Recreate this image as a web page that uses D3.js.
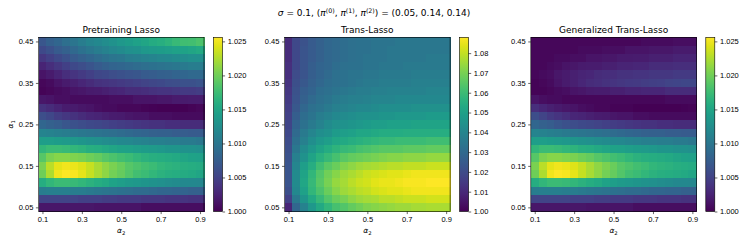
<!DOCTYPE html>
<html>
<head>
<meta charset="utf-8">
<script src="https://d3js.org/d3.v7.min.js"></script>
<style>
  body { margin: 0; background: white; }
  svg { font-family: "DejaVu Sans", sans-serif; }
  .tick text { font-size: 7.5px; fill: #000; }
  .tick line { stroke: #000; stroke-width: 0.6; }
  .cell { shape-rendering: crispEdges; }
</style>
</head>
<body>
<script>
// grid of the heat maps (rows top -> bottom)
var alpha1 = [0.45, 0.43, 0.41, 0.39, 0.37, 0.35, 0.33, 0.31, 0.29, 0.27, 0.25,
              0.23, 0.21, 0.19, 0.17, 0.15, 0.13, 0.11, 0.09, 0.07, 0.05];
var alpha2 = [0.10, 0.14, 0.18, 0.22, 0.26, 0.30, 0.34, 0.38, 0.42, 0.46, 0.50,
              0.54, 0.58, 0.62, 0.66, 0.70, 0.74, 0.78, 0.82, 0.86, 0.90];
var xTicks = [0.1, 0.3, 0.5, 0.7, 0.9];
var yTicks = [0.05, 0.15, 0.25, 0.35, 0.45];

var titles = ["Pretraining Lasso", "Trans-Lasso", "Generalized Trans-Lasso"];

// relative error, Pretraining Lasso
var ptLasso = [
  [1.0069,1.0077,1.0084,1.0092,1.0100,1.0108,1.0115,1.0120,1.0125,1.0131,1.0136,1.0141,1.0146,1.0151,1.0156,1.0161,1.0166,1.0172,1.0177,1.0179,1.0184],
  [1.0056,1.0064,1.0072,1.0079,1.0087,1.0095,1.0102,1.0108,1.0113,1.0118,1.0123,1.0128,1.0131,1.0136,1.0138,1.0141,1.0143,1.0146,1.0148,1.0151,1.0154],
  [1.0041,1.0049,1.0056,1.0064,1.0072,1.0079,1.0084,1.0090,1.0095,1.0100,1.0102,1.0108,1.0110,1.0113,1.0115,1.0118,1.0120,1.0123,1.0125,1.0128,1.0128],
  [1.0026,1.0033,1.0041,1.0049,1.0056,1.0061,1.0067,1.0072,1.0077,1.0082,1.0084,1.0087,1.0090,1.0092,1.0095,1.0097,1.0100,1.0102,1.0105,1.0108,1.0108],
  [1.0013,1.0018,1.0026,1.0033,1.0038,1.0044,1.0049,1.0054,1.0056,1.0061,1.0064,1.0067,1.0069,1.0072,1.0074,1.0077,1.0079,1.0082,1.0084,1.0087,1.0087],
  [1.0005,1.0008,1.0013,1.0018,1.0023,1.0028,1.0031,1.0036,1.0038,1.0041,1.0044,1.0046,1.0049,1.0051,1.0054,1.0056,1.0059,1.0061,1.0064,1.0064,1.0067],
  [1.0003,1.0005,1.0008,1.0010,1.0013,1.0015,1.0018,1.0020,1.0023,1.0026,1.0028,1.0031,1.0031,1.0033,1.0036,1.0038,1.0038,1.0041,1.0044,1.0044,1.0046],
  [1.0015,1.0013,1.0010,1.0010,1.0008,1.0008,1.0008,1.0008,1.0008,1.0010,1.0010,1.0010,1.0013,1.0013,1.0013,1.0015,1.0015,1.0018,1.0018,1.0020,1.0020],
  [1.0036,1.0031,1.0026,1.0020,1.0018,1.0015,1.0013,1.0010,1.0008,1.0008,1.0005,1.0005,1.0005,1.0003,1.0002,1.0001,1.0000,1.0000,1.0001,1.0003,1.0005],
  [1.0061,1.0054,1.0046,1.0041,1.0036,1.0031,1.0028,1.0026,1.0023,1.0020,1.0018,1.0015,1.0013,1.0013,1.0010,1.0010,1.0010,1.0008,1.0008,1.0008,1.0008],
  [1.0084,1.0079,1.0074,1.0069,1.0064,1.0059,1.0056,1.0054,1.0051,1.0049,1.0046,1.0044,1.0041,1.0038,1.0036,1.0036,1.0033,1.0033,1.0031,1.0031,1.0031],
  [1.0115,1.0113,1.0110,1.0108,1.0105,1.0102,1.0100,1.0097,1.0095,1.0092,1.0090,1.0087,1.0084,1.0082,1.0079,1.0077,1.0077,1.0074,1.0074,1.0072,1.0072],
  [1.0143,1.0143,1.0141,1.0138,1.0136,1.0133,1.0131,1.0128,1.0125,1.0123,1.0120,1.0118,1.0115,1.0113,1.0110,1.0110,1.0108,1.0108,1.0105,1.0105,1.0102],
  [1.0169,1.0174,1.0174,1.0172,1.0169,1.0166,1.0161,1.0159,1.0154,1.0151,1.0148,1.0146,1.0143,1.0141,1.0138,1.0136,1.0133,1.0133,1.0131,1.0131,1.0128],
  [1.0189,1.0205,1.0210,1.0210,1.0207,1.0205,1.0200,1.0195,1.0189,1.0184,1.0179,1.0174,1.0169,1.0164,1.0161,1.0159,1.0156,1.0154,1.0151,1.0148,1.0146],
  [1.0205,1.0230,1.0246,1.0251,1.0248,1.0243,1.0233,1.0223,1.0212,1.0205,1.0197,1.0189,1.0184,1.0179,1.0174,1.0169,1.0166,1.0164,1.0161,1.0159,1.0156],
  [1.0200,1.0225,1.0251,1.0256,1.0253,1.0246,1.0233,1.0223,1.0212,1.0202,1.0195,1.0187,1.0179,1.0174,1.0169,1.0164,1.0161,1.0159,1.0156,1.0154,1.0151],
  [1.0159,1.0169,1.0174,1.0174,1.0172,1.0169,1.0164,1.0159,1.0154,1.0148,1.0143,1.0138,1.0136,1.0133,1.0131,1.0128,1.0125,1.0123,1.0120,1.0120,1.0118],
  [1.0108,1.0110,1.0110,1.0110,1.0108,1.0108,1.0105,1.0102,1.0100,1.0097,1.0095,1.0092,1.0090,1.0090,1.0087,1.0084,1.0084,1.0082,1.0082,1.0079,1.0079],
  [1.0051,1.0051,1.0051,1.0051,1.0051,1.0049,1.0049,1.0049,1.0046,1.0046,1.0044,1.0044,1.0044,1.0041,1.0041,1.0041,1.0038,1.0038,1.0038,1.0036,1.0036],
  [1.0015,1.0015,1.0015,1.0015,1.0015,1.0015,1.0015,1.0013,1.0013,1.0013,1.0013,1.0013,1.0013,1.0010,1.0010,1.0010,1.0010,1.0010,1.0010,1.0010,1.0010]
];

// relative error, Trans-Lasso
var transLasso = [
  [1.011,1.019,1.022,1.025,1.027,1.029,1.030,1.031,1.032,1.033,1.033,1.034,1.034,1.034,1.035,1.035,1.035,1.035,1.035,1.035,1.035],
  [1.011,1.019,1.023,1.025,1.027,1.029,1.030,1.031,1.032,1.033,1.033,1.034,1.034,1.035,1.035,1.035,1.035,1.035,1.035,1.035,1.035],
  [1.011,1.019,1.023,1.025,1.027,1.029,1.030,1.031,1.032,1.033,1.034,1.034,1.034,1.035,1.035,1.035,1.035,1.035,1.036,1.036,1.036],
  [1.012,1.019,1.023,1.026,1.028,1.029,1.031,1.032,1.033,1.033,1.034,1.034,1.035,1.035,1.035,1.036,1.036,1.036,1.036,1.036,1.036],
  [1.012,1.020,1.023,1.026,1.028,1.030,1.032,1.033,1.034,1.034,1.035,1.035,1.036,1.036,1.036,1.036,1.037,1.037,1.037,1.037,1.037],
  [1.013,1.021,1.024,1.027,1.029,1.031,1.032,1.033,1.034,1.035,1.036,1.036,1.037,1.037,1.037,1.037,1.038,1.038,1.038,1.038,1.038],
  [1.014,1.022,1.026,1.028,1.031,1.032,1.034,1.035,1.036,1.037,1.037,1.038,1.038,1.039,1.039,1.039,1.039,1.039,1.040,1.040,1.040],
  [1.015,1.023,1.027,1.030,1.032,1.034,1.036,1.037,1.038,1.038,1.039,1.040,1.040,1.040,1.041,1.041,1.041,1.041,1.041,1.041,1.041],
  [1.016,1.024,1.029,1.032,1.034,1.036,1.038,1.039,1.040,1.041,1.041,1.042,1.043,1.043,1.043,1.043,1.044,1.044,1.044,1.044,1.044],
  [1.017,1.026,1.031,1.034,1.037,1.039,1.041,1.042,1.043,1.044,1.045,1.045,1.046,1.046,1.047,1.047,1.047,1.047,1.048,1.048,1.048],
  [1.018,1.028,1.033,1.036,1.039,1.042,1.044,1.045,1.046,1.047,1.048,1.049,1.049,1.050,1.050,1.050,1.051,1.051,1.051,1.051,1.051],
  [1.019,1.030,1.036,1.040,1.043,1.045,1.048,1.049,1.050,1.052,1.052,1.053,1.054,1.054,1.054,1.055,1.055,1.055,1.055,1.055,1.055],
  [1.020,1.032,1.038,1.043,1.047,1.049,1.052,1.053,1.055,1.056,1.057,1.058,1.059,1.059,1.060,1.060,1.060,1.060,1.061,1.061,1.061],
  [1.021,1.035,1.042,1.047,1.051,1.054,1.057,1.059,1.060,1.062,1.063,1.064,1.065,1.065,1.065,1.066,1.066,1.066,1.067,1.067,1.067],
  [1.022,1.038,1.045,1.051,1.056,1.059,1.062,1.065,1.067,1.068,1.069,1.070,1.071,1.072,1.072,1.073,1.073,1.073,1.074,1.074,1.074],
  [1.023,1.040,1.049,1.055,1.061,1.065,1.068,1.071,1.073,1.075,1.076,1.077,1.078,1.079,1.079,1.080,1.080,1.080,1.081,1.081,1.081],
  [1.023,1.042,1.051,1.058,1.064,1.069,1.072,1.075,1.077,1.079,1.081,1.082,1.083,1.084,1.084,1.085,1.086,1.086,1.086,1.086,1.086],
  [1.023,1.042,1.052,1.059,1.065,1.070,1.074,1.076,1.079,1.081,1.082,1.084,1.085,1.085,1.086,1.087,1.087,1.087,1.088,1.088,1.088],
  [1.021,1.041,1.050,1.058,1.063,1.068,1.072,1.075,1.077,1.079,1.080,1.082,1.083,1.084,1.084,1.085,1.086,1.086,1.086,1.086,1.086],
  [1.017,1.036,1.046,1.053,1.059,1.064,1.068,1.070,1.073,1.075,1.076,1.077,1.079,1.079,1.080,1.081,1.081,1.081,1.082,1.082,1.082],
  [1.009,1.029,1.039,1.047,1.053,1.058,1.062,1.064,1.067,1.069,1.071,1.072,1.073,1.074,1.075,1.075,1.076,1.076,1.077,1.077,1.077]
];

// relative error, Generalized Trans-Lasso
var genTransLasso = [
  [1.0005,1.0005,1.0005,1.0005,1.0005,1.0005,1.0005,1.0005,1.0005,1.0005,1.0005,1.0005,1.0005,1.0005,1.0008,1.0008,1.0008,1.0008,1.0010,1.0010,1.0010],
  [1.0005,1.0005,1.0005,1.0005,1.0005,1.0005,1.0008,1.0008,1.0008,1.0010,1.0010,1.0010,1.0013,1.0013,1.0013,1.0015,1.0015,1.0015,1.0018,1.0018,1.0018],
  [1.0005,1.0005,1.0005,1.0008,1.0008,1.0010,1.0010,1.0013,1.0013,1.0015,1.0015,1.0018,1.0018,1.0020,1.0020,1.0023,1.0023,1.0023,1.0026,1.0026,1.0026],
  [1.0005,1.0005,1.0008,1.0010,1.0013,1.0015,1.0018,1.0020,1.0020,1.0023,1.0023,1.0026,1.0026,1.0028,1.0028,1.0031,1.0031,1.0031,1.0033,1.0033,1.0033],
  [1.0005,1.0008,1.0010,1.0015,1.0018,1.0023,1.0026,1.0028,1.0031,1.0033,1.0033,1.0036,1.0036,1.0038,1.0038,1.0041,1.0041,1.0041,1.0044,1.0044,1.0044],
  [1.0003,1.0005,1.0008,1.0013,1.0018,1.0023,1.0028,1.0031,1.0033,1.0036,1.0038,1.0041,1.0043,1.0044,1.0046,1.0048,1.0049,1.0051,1.0052,1.0054,1.0054],
  [1.0003,1.0003,1.0005,1.0008,1.0010,1.0013,1.0015,1.0018,1.0020,1.0020,1.0023,1.0023,1.0026,1.0026,1.0028,1.0028,1.0028,1.0031,1.0031,1.0031,1.0031],
  [1.0013,1.0010,1.0008,1.0008,1.0005,1.0005,1.0005,1.0005,1.0005,1.0005,1.0005,1.0005,1.0005,1.0005,1.0005,1.0005,1.0005,1.0008,1.0008,1.0008,1.0008],
  [1.0033,1.0028,1.0023,1.0018,1.0015,1.0013,1.0010,1.0008,1.0005,1.0005,1.0003,1.0003,1.0003,1.0001,1.0000,1.0000,1.0000,1.0000,1.0001,1.0002,1.0003],
  [1.0059,1.0051,1.0044,1.0038,1.0033,1.0028,1.0026,1.0023,1.0020,1.0018,1.0015,1.0013,1.0013,1.0010,1.0010,1.0008,1.0008,1.0008,1.0008,1.0008,1.0008],
  [1.0084,1.0079,1.0074,1.0069,1.0064,1.0059,1.0056,1.0054,1.0051,1.0049,1.0046,1.0044,1.0041,1.0038,1.0036,1.0036,1.0033,1.0033,1.0031,1.0031,1.0031],
  [1.0115,1.0113,1.0110,1.0108,1.0105,1.0102,1.0100,1.0097,1.0095,1.0092,1.0090,1.0087,1.0084,1.0082,1.0079,1.0077,1.0077,1.0074,1.0074,1.0072,1.0072],
  [1.0143,1.0143,1.0141,1.0138,1.0136,1.0133,1.0131,1.0128,1.0125,1.0123,1.0120,1.0118,1.0115,1.0113,1.0110,1.0110,1.0108,1.0108,1.0105,1.0105,1.0102],
  [1.0169,1.0174,1.0174,1.0172,1.0169,1.0166,1.0161,1.0159,1.0154,1.0151,1.0148,1.0146,1.0143,1.0141,1.0138,1.0136,1.0133,1.0133,1.0131,1.0131,1.0128],
  [1.0189,1.0205,1.0210,1.0210,1.0207,1.0205,1.0200,1.0195,1.0189,1.0184,1.0179,1.0174,1.0169,1.0164,1.0161,1.0159,1.0156,1.0154,1.0151,1.0148,1.0146],
  [1.0205,1.0230,1.0246,1.0251,1.0248,1.0243,1.0233,1.0223,1.0212,1.0205,1.0197,1.0189,1.0184,1.0179,1.0174,1.0169,1.0166,1.0164,1.0161,1.0159,1.0156],
  [1.0200,1.0225,1.0251,1.0256,1.0253,1.0246,1.0233,1.0223,1.0212,1.0202,1.0195,1.0187,1.0179,1.0174,1.0169,1.0164,1.0161,1.0159,1.0156,1.0154,1.0151],
  [1.0159,1.0169,1.0174,1.0174,1.0172,1.0169,1.0164,1.0159,1.0154,1.0148,1.0143,1.0138,1.0136,1.0133,1.0131,1.0128,1.0125,1.0123,1.0120,1.0120,1.0118],
  [1.0108,1.0110,1.0110,1.0110,1.0108,1.0108,1.0105,1.0102,1.0100,1.0097,1.0095,1.0092,1.0090,1.0090,1.0087,1.0084,1.0084,1.0082,1.0082,1.0079,1.0079],
  [1.0051,1.0051,1.0051,1.0051,1.0051,1.0049,1.0049,1.0049,1.0046,1.0046,1.0044,1.0044,1.0044,1.0041,1.0041,1.0041,1.0038,1.0038,1.0038,1.0036,1.0036],
  [1.0015,1.0015,1.0015,1.0015,1.0015,1.0015,1.0015,1.0013,1.0013,1.0013,1.0013,1.0013,1.0013,1.0010,1.0010,1.0010,1.0010,1.0010,1.0010,1.0010,1.0010]
];

// colorbar limits and ticks
var limPT = [1.000, 1.0256];
var limTL = [1.000, 1.088];
var cbTicksPT = [1.000, 1.005, 1.010, 1.015, 1.020, 1.025];
var cbTicksTL = [1.00, 1.01, 1.02, 1.03, 1.04, 1.05, 1.06, 1.07, 1.08];

var panels = [
  {title: titles[0], data: ptLasso, lim: limPT, ticks: cbTicksPT, fmt: ".3f", ylab: true},
  {title: titles[1], data: transLasso, lim: limTL, ticks: cbTicksTL, fmt: ".2f", ylab: false},
  {title: titles[2], data: genTransLasso, lim: limPT, ticks: cbTicksPT, fmt: ".3f", ylab: false}
];

var width = 748, height = 240;
var svg = d3.select("body").append("svg")
    .attr("width", width)
    .attr("height", height);

var lefts = [38.5, 284.6, 530.8];
var pw = 165.5, plotTop = 37.3, ph = 174.2;
var cbGap = 9.5, cbW = 9;
var tk = 2.6;

// gradient for colorbars
var defs = svg.append("defs");
var grad = defs.append("linearGradient").attr("id", "viridis")
    .attr("x1", 0).attr("y1", 1).attr("x2", 0).attr("y2", 0);
d3.range(0, 1.0001, 0.05).forEach(function(s) {
    grad.append("stop").attr("offset", s).attr("stop-color", d3.interpolateViridis(s));
});

// suptitle (mathtext style)
var sup = svg.append("text")
    .attr("x", 374).attr("y", 16)
    .attr("text-anchor", "middle")
    .style("font-size", "9px");
var parts = [
    ["σ", "i"], [" = 0.1, (", ""], ["π", "i"], ["(0)", "s"], [", ", ""],
    ["π", "i"], ["(1)", "s"], [", ", ""], ["π", "i"], ["(2)", "s"],
    [") = (0.05, 0.14, 0.14)", ""]
];
parts.forEach(function(p, i) {
    var t = sup.append("tspan").text(p[0]);
    if (p[1] == "i") t.style("font-style", "italic");
    if (p[1] == "s") t.style("font-size", "6.3px").attr("dy", -3.3);
    if (i > 0 && parts[i - 1][1] == "s") t.attr("dy", 3.3);
});

panels.forEach(function(p, k) {
    var x0 = lefts[k];
    var g = svg.append("g");

    var x = d3.scaleLinear().domain([0.08, 0.92]).range([x0, x0 + pw]);
    var y = d3.scaleLinear().domain([0.04, 0.46]).range([plotTop + ph, plotTop]);
    var color = d3.scaleSequential(d3.interpolateViridis).domain(p.lim);

    var cells = [];
    p.data.forEach(function(row, i) {
        row.forEach(function(v, j) {
            cells.push({a1: alpha1[i], a2: alpha2[j], v: v});
        });
    });

    g.selectAll("rect.cell")
        .data(cells)
        .enter()
        .append("rect")
        .attr("class", "cell")
        .attr("x", function(d) { return x(d.a2 - 0.02); })
        .attr("y", function(d) { return y(d.a1 + 0.01); })
        .attr("width", x(0.12) - x(0.08) + 0.5)
        .attr("height", y(0.04) - y(0.06) + 0.5)
        .attr("fill", function(d) { return color(d.v); });

    // frame
    g.append("rect")
        .attr("x", x0).attr("y", plotTop).attr("width", pw).attr("height", ph)
        .attr("fill", "none").attr("stroke", "#000").attr("stroke-width", 0.6);

    var xAxis = g.append("g")
        .attr("transform", "translate(0," + (plotTop + ph) + ")")
        .call(d3.axisBottom(x).tickValues(xTicks).tickSize(tk).tickPadding(2.4)
              .tickFormat(d3.format(".1f")));
    xAxis.select(".domain").remove();

    var yAxis = g.append("g")
        .attr("transform", "translate(" + x0 + ",0)")
        .call(d3.axisLeft(y).tickValues(yTicks).tickSize(tk).tickPadding(2.6)
              .tickFormat(d3.format(".2f")));
    yAxis.select(".domain").remove();

    g.selectAll(".tick text").attr("font-family", null);

    // titles and labels
    g.append("text")
        .attr("x", x0 + pw / 2).attr("y", 32.8)
        .attr("text-anchor", "middle")
        .style("font-size", "9px")
        .text(p.title);

    var xl = g.append("text")
        .attr("x", x0 + pw / 2).attr("y", 233)
        .attr("text-anchor", "middle")
        .style("font-size", "7.5px");
    xl.append("tspan").style("font-style", "italic").text("α");
    xl.append("tspan").attr("dy", 1.6).style("font-size", "5.3px").text("2");

    if (p.ylab) {
        var yl = g.append("text")
            .attr("transform", "translate(13," + (plotTop + ph / 2) + ") rotate(-90)")
            .attr("text-anchor", "middle")
            .style("font-size", "7.5px");
        yl.append("tspan").style("font-style", "italic").text("α");
        yl.append("tspan").attr("dy", 1.6).style("font-size", "5.3px").text("1");
    }

    // colorbar
    var cx = x0 + pw + cbGap;
    var cy = d3.scaleLinear().domain(p.lim).range([plotTop + ph, plotTop]);
    g.append("rect")
        .attr("x", cx).attr("y", plotTop).attr("width", cbW).attr("height", ph)
        .attr("fill", "url(#viridis)")
        .attr("stroke", "#000").attr("stroke-width", 0.6);
    var cAxis = g.append("g")
        .attr("transform", "translate(" + (cx + cbW) + ",0)")
        .call(d3.axisRight(cy).tickValues(p.ticks).tickSize(tk).tickPadding(2.6)
              .tickFormat(d3.format(p.fmt)));
    cAxis.select(".domain").remove();
    cAxis.selectAll(".tick text").attr("font-family", null);
});
</script>
</body>
</html>
